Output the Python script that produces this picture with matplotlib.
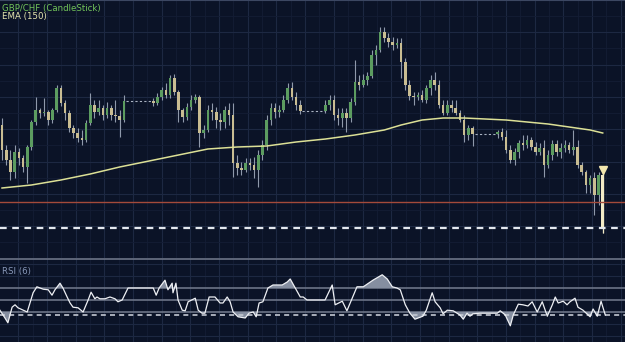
import numpy as np
import matplotlib.pyplot as plt

# GBP/CHF candles (open of each bar = previous close)
first_open = 1.2875
closes = [1.2850, 1.2840, 1.2828, 1.2848, 1.2842, 1.2833, 1.2853, 1.2878, 1.2890, 1.2887,
          1.2888, 1.2880, 1.2890, 1.2912, 1.2897, 1.2887, 1.2872, 1.2867, 1.2862, 1.2860,
          1.2877, 1.2895, 1.2888, 1.2892, 1.2885, 1.2892, 1.2885, 1.2884, 1.2880, 1.2899,
          1.2899, 1.2899, 1.2899, 1.2899, 1.2899, 1.2899, 1.2897, 1.2903, 1.2910, 1.2905,
          1.2922, 1.2908, 1.2890, 1.2883, 1.2893, 1.2900, 1.2903, 1.2867, 1.2870, 1.2890,
          1.2888, 1.2880, 1.2878, 1.2890, 1.2885, 1.2837, 1.2832, 1.2830, 1.2837, 1.2835,
          1.2830, 1.2845, 1.2855, 1.2880, 1.2892, 1.2888, 1.2890, 1.2900, 1.2912, 1.2903,
          1.2895, 1.2889, 1.2889, 1.2889, 1.2889, 1.2889, 1.2889, 1.2895, 1.2900, 1.2885,
          1.2882, 1.2887, 1.2882, 1.2898, 1.2918, 1.2915, 1.2920, 1.2924, 1.2945, 1.2950,
          1.2968, 1.2962, 1.2958, 1.2955, 1.2957, 1.2938, 1.2915, 1.2904, 1.2903, 1.2905,
          1.2900, 1.2912, 1.2920, 1.2915, 1.2895, 1.2887, 1.2895, 1.2892, 1.2887, 1.2880,
          1.2865, 1.2872, 1.2866, 1.2866, 1.2866, 1.2866, 1.2866, 1.2866, 1.2868, 1.2863,
          1.2850, 1.2840, 1.2848, 1.2857, 1.2855, 1.2860, 1.2853, 1.2848, 1.2852, 1.2835,
          1.2845, 1.2856, 1.2848, 1.2852, 1.2855, 1.2850, 1.2853, 1.2835, 1.2828, 1.2815,
          1.2822, 1.2805, 1.2825, 1.2772]
highs = [1.2882, 1.2855, 1.2850, 1.2855, 1.2852, 1.2845, 1.2855, 1.2880, 1.2903, 1.2892,
         1.2902, 1.2890, 1.2892, 1.2915, 1.2915, 1.2900, 1.2890, 1.2875, 1.2872, 1.2870,
         1.2880, 1.2907, 1.2900, 1.2900, 1.2895, 1.2898, 1.2895, 1.2900, 1.2890, 1.2905,
         1.2899, 1.2899, 1.2899, 1.2899, 1.2899, 1.2899, 1.2902, 1.2907, 1.2913, 1.2917,
         1.2925, 1.2926, 1.2910, 1.2892, 1.2897, 1.2905, 1.2906, 1.2905, 1.2875, 1.2895,
         1.2897, 1.2893, 1.2887, 1.2894, 1.2897, 1.2897, 1.2845, 1.2838, 1.2842, 1.2842,
         1.2843, 1.2850, 1.2860, 1.2885, 1.2897, 1.2897, 1.2895, 1.2905, 1.2917, 1.2918,
         1.2908, 1.2900, 1.2889, 1.2889, 1.2889, 1.2889, 1.2889, 1.2900, 1.2905, 1.2905,
         1.2892, 1.2892, 1.2892, 1.2902, 1.2940, 1.2925, 1.2926, 1.2928, 1.2950, 1.2955,
         1.2973, 1.2973, 1.2967, 1.2963, 1.2962, 1.2962, 1.2942, 1.2920, 1.2908, 1.2908,
         1.2910, 1.2915, 1.2925, 1.2928, 1.2920, 1.2900, 1.2900, 1.2900, 1.2900, 1.2890,
         1.2885, 1.2875, 1.2874, 1.2866, 1.2866, 1.2866, 1.2866, 1.2866, 1.2870, 1.2872,
         1.2870, 1.2855, 1.2852, 1.2860, 1.2865, 1.2865, 1.2863, 1.2858, 1.2857, 1.2860,
         1.2850, 1.2860, 1.2860, 1.2857, 1.2860, 1.2858, 1.2870, 1.2860, 1.2838, 1.2830,
         1.2825, 1.2828, 1.2828, 1.2830]
lows = [1.2840, 1.2835, 1.2820, 1.2822, 1.2835, 1.2828, 1.2817, 1.2850, 1.2875, 1.2882,
        1.2884, 1.2875, 1.2877, 1.2888, 1.2894, 1.2880, 1.2868, 1.2862, 1.2858, 1.2855,
        1.2858, 1.2875, 1.2882, 1.2885, 1.2880, 1.2882, 1.2880, 1.2878, 1.2863, 1.2878,
        1.2899, 1.2899, 1.2899, 1.2899, 1.2899, 1.2899, 1.2894, 1.2895, 1.2900, 1.2902,
        1.2902, 1.2905, 1.2878, 1.2878, 1.2880, 1.2890, 1.2897, 1.2853, 1.2862, 1.2868,
        1.2880, 1.2872, 1.2870, 1.2872, 1.2875, 1.2823, 1.2825, 1.2825, 1.2828, 1.2830,
        1.2822, 1.2813, 1.2840, 1.2850, 1.2875, 1.2882, 1.2883, 1.2888, 1.2897, 1.2900,
        1.2890, 1.2886, 1.2889, 1.2889, 1.2889, 1.2889, 1.2889, 1.2887, 1.2890, 1.2880,
        1.2875, 1.2873, 1.2868, 1.2878, 1.2895, 1.2910, 1.2913, 1.2915, 1.2922, 1.2935,
        1.2948, 1.2958, 1.2953, 1.2950, 1.2952, 1.2922, 1.2910, 1.2900, 1.2895, 1.2900,
        1.2898, 1.2897, 1.2905, 1.2910, 1.2892, 1.2885, 1.2885, 1.2888, 1.2885, 1.2878,
        1.2858, 1.2860, 1.2854, 1.2866, 1.2866, 1.2866, 1.2866, 1.2866, 1.2862, 1.2860,
        1.2847, 1.2837, 1.2835, 1.2842, 1.2850, 1.2852, 1.2850, 1.2845, 1.2845, 1.2823,
        1.2832, 1.2840, 1.2844, 1.2842, 1.2848, 1.2847, 1.2845, 1.2832, 1.2825, 1.2807,
        1.2807, 1.2785, 1.2795, 1.2767]

# EMA(150) at some bars
ema_x = [0, 7, 14, 21, 28, 35, 42, 49, 56, 63, 70, 77, 84, 91, 95, 100, 105, 110, 115, 120,
         125, 130, 135, 140, 143]
ema_y = [1.2812, 1.2815, 1.2820, 1.2826, 1.2833, 1.2839, 1.2845, 1.2851, 1.2853, 1.2854,
         1.2858, 1.2861, 1.2865, 1.2870, 1.2875, 1.2880, 1.2882, 1.2882, 1.2881, 1.2880,
         1.2878, 1.2876, 1.2873, 1.2870, 1.2867]

resistance = 1.2798

# RSI(6)
rsi_x = [-0.5, 0.7, 1.4, 2.4, 3.1, 3.8, 6.0, 7.4, 8.3, 9.8, 11.0, 11.9, 12.6, 13.8, 14.5, 15.5,
         16.2, 16.9, 18.1, 19.3, 20.5, 21.2, 22.1, 22.6, 23.3, 24.5, 25.7, 26.9, 27.6, 28.6,
         30.0, 36.0, 36.7, 37.4, 38.8, 39.5, 40.5, 40.7, 41.4, 41.9, 42.9, 43.6, 44.3, 46.0,
         46.7, 47.6, 48.3, 49.3, 50.7, 51.9, 52.6, 53.6, 54.3, 55.0, 56.2, 57.9, 58.8, 59.8,
         60.5, 61.2, 62.1, 63.3, 64.5, 66.7, 67.9, 68.6, 69.8, 71.0, 71.7, 72.6, 76.9, 78.6,
         79.3, 81.0, 82.1, 84.5, 86.0, 88.3, 90.5, 91.7, 92.9, 94.0, 94.8, 96.0, 97.1, 98.3,
         100.2, 101.0, 102.4, 103.1, 104.3, 105.0, 106.0, 107.4, 109.0, 109.8, 110.7, 111.4,
         112.1, 113.8, 117.9, 118.6, 119.8, 121.0, 121.7, 122.9, 124.0, 125.2, 126.2, 127.4,
         128.6, 129.8, 131.0, 131.7, 132.4, 133.6, 134.5, 135.2, 136.4, 137.1, 138.3, 140.0,
         140.7, 141.7, 142.6, 143.6]
rsi_v = [33, 20, 12, 38, 42, 37, 30, 62, 72, 68, 67, 58, 67, 78, 70, 55,
         45, 38, 37, 30, 50, 63, 52, 55, 52, 52, 55, 52, 47, 50,
         70, 70, 58, 70, 83, 67, 78, 62, 78, 50, 33, 32, 47, 53,
         33, 28, 28, 55, 55, 45, 45, 55, 47, 30, 22, 20, 28, 30,
         22, 45, 47, 70, 75, 75, 80, 85, 70, 55, 55, 50, 50, 75,
         42, 48, 32, 72, 72, 83, 92, 85, 72, 70, 67, 42, 28, 18,
         23, 33, 62, 47, 37, 27, 33, 32, 25, 18, 28, 23,
         27, 28, 28, 32, 25, 7, 25, 43, 42, 40, 47, 30,
         47, 23, 42, 55, 45, 48, 42, 47, 53, 38, 33, 22,
         35, 23, 48, 25]

bg = '#0b1327'
bull = '#5c9c60'
bear = '#c9bd92'
wick = '#8f99ab'

o = np.array([first_open] + closes[:-1])
c = np.array(closes)
h = np.array(highs)
l = np.array(lows)
x = np.arange(len(c))
flat = h == l

fig = plt.figure(figsize=(6.25, 3.42), dpi=100, facecolor=bg)
ax = fig.add_axes([0, 1 - 258 / 342, 1, 258 / 342], facecolor=bg)
ax2 = fig.add_axes([0, 0, 1, 83 / 342], facecolor=bg)

xmin, xmax = -0.48, 148.3
grid_x = np.arange(3.86, xmax, 6.83)
minor_x = grid_x + 3.415
minor_x = minor_x[minor_x < xmax]
for a in (ax, ax2):
    a.set_xticks(grid_x)
    a.set_xticks(minor_x, minor=True)
    a.set_xlim(xmin, xmax)
    a.tick_params(which='both', length=0, labelbottom=False, labelleft=False)
    a.grid(which='major', color='#1d2842', lw=0.8)
    a.grid(which='minor', color='#141d35', lw=0.6)
    a.set_axisbelow(True)
    for s in a.spines.values():
        s.set_visible(False)

# main panel
ax.set_yticks(np.arange(1.3 - 0.00323, 1.2742, -0.00323))
ax.set_yticks(np.arange(1.3 - 0.001615, 1.2742, -0.00323), minor=True)
ax.set_ylim(1.2742, 1.3)
ax.spines['top'].set_visible(True)
ax.spines['top'].set_color('#3c4762')

m = ~flat
ax.vlines(x[m], l[m], h[m], color=wick, lw=0.8, zorder=2)
cols = np.where(c >= o, bull, bear)
cols[-1] = '#f3ebc6'
body = np.maximum(np.abs(c - o), 0.00008)
ax.bar(x[m], body[m], bottom=np.minimum(o, c)[m], width=0.62, color=cols[m], zorder=3)
ax.vlines(x[-1], l[-1], h[-1], color='#f3ebc6', lw=0.9, zorder=2)

# flat stretches shown as dashed
i = 0
while i < len(c):
    if flat[i]:
        j = i
        while j + 1 < len(c) and flat[j + 1]:
            j += 1
        ax.plot([i - 0.5, j + 1], [c[i], c[i]], color='#a9b2c2', lw=0.8, dashes=(2, 2), zorder=3)
        i = j + 1
    else:
        i += 1

ax.plot(ema_x, ema_y, color='#dce096', lw=1.1, zorder=4)
ax.axhline(resistance, color='#a44a3a', lw=1, zorder=3)
ax.axhline(closes[-1], color='#e4e8ee', lw=1.6, dashes=(3, 2.5), zorder=3)
ax.plot(x[-1], h[-1], marker='v', ms=6, color='#f2e6ad', zorder=5)
ax.set_xlim(xmin, xmax)

ax.text(0.004, 0.985, 'GBP/CHF (CandleStick)', transform=ax.transAxes, color='#72c45a',
        fontsize=6.2, va='top', ha='left')
ax.text(0.004, 0.952, 'EMA (150)', transform=ax.transAxes, color='#e6e6b0',
        fontsize=6.2, va='top', ha='left')

# RSI panel
ax2.set_yticks([-10, 10, 90, 110])
ax2.set_ylim(-20, 118.3)
ax2.spines['top'].set_visible(True)
ax2.spines['top'].set_color('#6c7486')
ax2.spines['top'].set_linewidth(1.2)
for lev in (70, 50, 30):
    ax2.axhline(lev, color='#6c7486', lw=1.2, zorder=2)
rx = np.array(rsi_x)
rv = np.array(rsi_v, dtype=float)
ax2.fill_between(rx, rv, 70, where=rv > 70, interpolate=True, color='#858ea0', lw=0, zorder=3)
ax2.fill_between(rx, rv, 30, where=rv < 30, interpolate=True, color='#858ea0', lw=0, zorder=3)
ax2.axhline(rsi_v[-1], color='#c3c8d2', lw=1.2, dashes=(3, 2.5), zorder=3)
ax2.plot(rx, rv, color='#eef0f4', lw=0.9, zorder=4)
ax2.set_xlim(xmin, xmax)
ax2.text(0.004, 0.90, 'RSI (6)', transform=ax2.transAxes, color='#8898b8',
         fontsize=6.2, va='top', ha='left')

fig.savefig('out.png', dpi=100, facecolor=bg)
